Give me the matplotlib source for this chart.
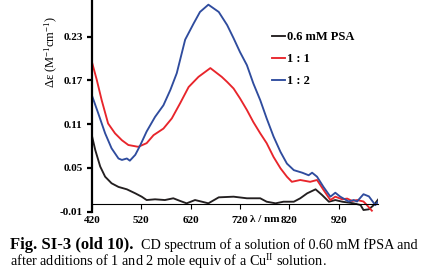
import numpy as np
import matplotlib
matplotlib.use("Agg")
import matplotlib.pyplot as plt

# CD spectra: wavelength (nm) / delta-epsilon
nm_psa = [420, 427, 437, 447, 460, 474, 491, 508, 521, 531, 548, 568, 585, 599, 612,
          629, 643, 656, 677, 707, 734, 761, 774, 792, 808, 829, 842, 856, 873, 886,
          900, 913, 927, 950, 964, 970, 981, 991, 1000]
de_psa = [0.095, 0.0746, 0.052, 0.038, 0.029, 0.024, 0.0207, 0.0152, 0.0106, 0.006,
          0.007, 0.006, 0.0084, 0.0047, 0.0015, 0.006, 0.0037, 0.0015, 0.0097, 0.0106,
          0.0084, 0.0084, 0.0037, 0.0015, 0.0037, 0.0037, 0.0084, 0.0152, 0.0207, 0.013,
          0.0037, 0.006, 0.0037, 0.0015, -0.0008, -0.0077, -0.0067, -0.0008, 0.007]

nm_11 = [420, 430, 440, 453, 467, 481, 494, 514, 531, 545, 565, 582, 599, 616, 636,
         660, 683, 694, 707, 720, 734, 747, 761, 774, 788, 802, 815, 825, 842, 862,
         876, 889, 903, 913, 927, 937, 947, 957, 970, 977, 987]
de_11 = [0.196, 0.171, 0.143, 0.111, 0.0975, 0.088, 0.0815, 0.079, 0.084, 0.095,
         0.104, 0.118, 0.139, 0.161, 0.175, 0.187, 0.175, 0.168, 0.159, 0.1455, 0.1295,
         0.113, 0.0975, 0.084, 0.065, 0.0495, 0.038, 0.031, 0.0335, 0.031, 0.0335,
         0.020, 0.006, 0.0106, 0.007, 0.008, 0.0047, 0.006, 0.004, -0.001, -0.0086]

nm_12 = [420, 433, 447, 460, 474, 481, 491, 497, 508, 518, 531, 548, 565, 579, 592,
         609, 626, 639, 656, 677, 694, 707, 720, 734, 747, 761, 774, 788, 802, 815,
         829, 846, 859, 866, 876, 889, 903, 913, 923, 940, 950, 957, 970, 981, 994, 1000]
de_12 = [0.150, 0.125, 0.0975, 0.077, 0.063, 0.061, 0.063, 0.060, 0.068, 0.081,
         0.100, 0.120, 0.136, 0.157, 0.180, 0.226, 0.248, 0.264, 0.274, 0.264, 0.246,
         0.228, 0.209, 0.191, 0.166, 0.143, 0.118, 0.093, 0.072, 0.056, 0.047, 0.0435,
         0.040, 0.0435, 0.038, 0.024, 0.0106, 0.016, 0.0106, 0.004, 0.006, 0.004,
         0.014, 0.011, -0.001, 0.004]

labels = ["0.6 mM PSA", "1 : 1", "1 : 2"]
colors = ["#231f20", "#e8252b", "#2f4c9e"]
xticks = [420, 520, 620, 720, 820, 920]
yticks = [-0.01, 0.05, 0.11, 0.17, 0.23]

plt.rcParams["font.family"] = ["Liberation Serif", "DejaVu Serif"]
plt.rcParams["mathtext.default"] = "regular"

fig = plt.figure(figsize=(4.21, 2.78), dpi=100)
ax = fig.add_axes([91.8 / 421, 1 - 211.7 / 278, (378.3 - 91.8) / 421, 211.7 / 278])

for x, y, lab, c in zip([nm_psa, nm_11, nm_12], [de_psa, de_11, de_12], labels, colors):
    ax.plot(x, y, color=c, lw=1.35, label=lab)

ax.set_xlim(420, 1000)
ax.set_ylim(-0.01, 0.2804)
ax.spines["top"].set_visible(False)
ax.spines["right"].set_visible(False)
ax.spines["bottom"].set_position(("data", 0))
ax.spines["bottom"].set_linewidth(0.8)
ax.spines["left"].set_linewidth(1.6)

ax.set_xticks(xticks)
ax.set_yticks(yticks)
ax.set_yticklabels([f"{v:.2f}" for v in yticks])
ax.tick_params(axis="x", direction="out", length=3.6, width=0.8, pad=4.8, labelsize=8)
ax.tick_params(axis="y", direction="out", length=3.6, width=1.6, pad=3, labelsize=8)
for t in ax.get_xticklabels() + ax.get_yticklabels():
    t.set_fontweight("bold")

# axis title sits inline between the 720 and 820 labels
ax.set_xlabel("\u03bb / nm", fontsize=8, fontweight="bold", va="center")
ax.xaxis.set_label_coords((265 - 91.8) / 286.5, -0.039)
ax.set_ylabel("\u0394\u03b5 (M$^{-1}$cm$^{-1}$)", fontsize=9, va="center")
ax.yaxis.set_label_coords(-0.139, 0.754)

ax.legend(loc="upper left", bbox_to_anchor=(271.7 / 421, 1 - 31 / 278),
          bbox_transform=fig.transFigure, frameon=False, borderpad=0,
          borderaxespad=0, handlelength=1.05, handletextpad=0.15,
          labelspacing=0.8, prop={"size": 9, "weight": "bold"})

# caption
fig.text(10 / 421, 1 - 245 / 278, "Fig. SI-3 (old 10).", fontsize=12,
         fontweight="bold", va="center", ha="left")
fig.text(141 / 421, 1 - 245 / 278, "CD spectrum of a solution of 0.60 mM fPSA and",
         fontsize=10.2, va="center", ha="left")
fig.text(10 / 421, 1 - 262 / 278,
         "after additions of 1 and 2 mole equiv of a Cu$^{II}$ solution.",
         fontsize=10.3, va="center", ha="left")

fig.savefig("out.png", dpi=100)
